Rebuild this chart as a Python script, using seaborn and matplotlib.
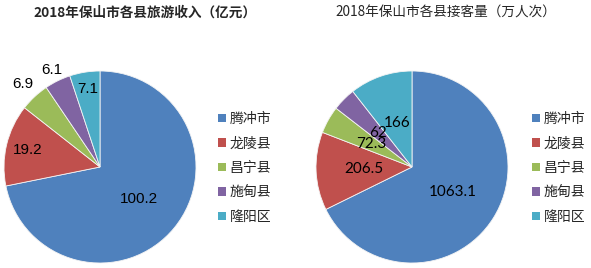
import numpy as np
import matplotlib
matplotlib.use("Agg")
import matplotlib.pyplot as plt
import seaborn as sns
from matplotlib.patches import Patch

categories = ["腾冲市", "龙陵县", "昌宁县", "施甸县", "隆阳区"]
income = [100.2, 19.2, 6.9, 6.1, 7.1]
visitors = [1063.1, 206.5, 72.3, 62, 166]
income_labels = ["100.2", "19.2", "6.9", "6.1", "7.1"]
visitor_labels = ["1063.1", "206.5", "72.3", "62", "166"]
title_left = "2018年保山市各县旅游收入（亿元）"
title_right = "2018年保山市各县接客量（万人次）"

colors = ["#4F81BD", "#C0504D", "#9BBB59", "#8064A2", "#4BACC6"]

sns.set_theme(style="white")
plt.rcParams['font.family'] = ['Noto Sans CJK SC', 'DejaVu Sans']

W, H = 591, 268
fig = plt.figure(figsize=(W / 100, H / 100), dpi=100)

def px_axes(cx, cy, r):
    return fig.add_axes([(cx - r) / W, (H - cy - r) / H, 2 * r / W, 2 * r / H])

def draw_pie(ax, vals, labels, dists, font, size):
    wedges, _ = ax.pie(vals, colors=colors, startangle=90, counterclock=False,
                       wedgeprops=dict(edgecolor="#f4f4f4", linewidth=0.6))
    ax.set_xlim(-1, 1)
    ax.set_ylim(-1, 1)
    ax.set_aspect("equal")
    for w, lab, d in zip(wedges, labels, dists):
        ang = np.deg2rad((w.theta1 + w.theta2) / 2)
        ax.text(d * np.cos(ang), d * np.sin(ang), lab, ha="center", va="center",
                fontsize=size, color="black", family=font)
    return wedges

ax1 = px_axes(100, 167, 96)
draw_pie(ax1, income, income_labels, [0.52, 0.77, 1.18, 1.13, 0.82], ["Liberation Sans"], 11)
ax2 = px_axes(412, 167, 96)
draw_pie(ax2, visitors, visitor_labels, [0.5, 0.5, 0.49, 0.5, 0.48], ["Lato"], 11)

fig.text(145 / W, 1 - 13 / H, title_left, ha="center", va="center",
         fontsize=9.8, fontweight="bold")
fig.text(446 / W, 1 - 13 / H, title_right, ha="center", va="center",
         fontsize=9.8)

handles = [Patch(facecolor=c, edgecolor="none") for c in colors]
for x0 in (218, 532):
    fig.legend(handles, categories, loc="center left",
               bbox_to_anchor=(x0 / W, 1 - 168 / H), frameon=False,
               fontsize=10, handlelength=0.55, handleheight=0.55,
               handletextpad=0.3, labelspacing=0.75, borderpad=0, borderaxespad=0)

fig.savefig("out.png", dpi=100, facecolor="white")
